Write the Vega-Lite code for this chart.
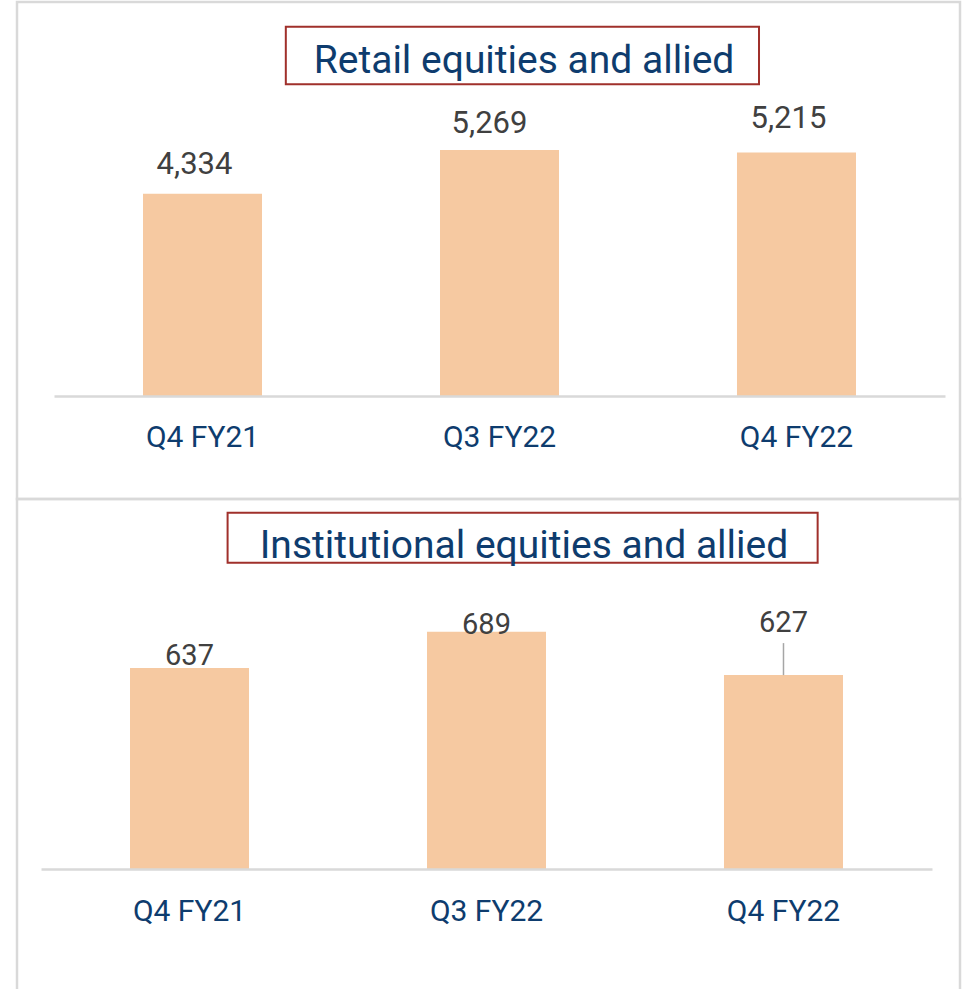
{
  "$schema": "https://vega.github.io/schema/vega-lite/v6.json",
  "background": "white",
  "padding": {"left": 15, "top": 0, "right": 5, "bottom": 0},
  "spacing": 0,
  "bounds": "flush",
  "config": {
    "view": {"stroke": "#D9D9D9", "strokeWidth": 2.5},
    "font": "Roboto",
    "concat": {"spacing": 0}
  },
  "datasets": {
    "retail": [
      {"quarter": "Q4 FY21", "value": 4334},
      {"quarter": "Q3 FY22", "value": 5269},
      {"quarter": "Q4 FY22", "value": 5215}
    ],
    "inst": [
      {"quarter": "Q4 FY21", "value": 637},
      {"quarter": "Q3 FY22", "value": 689},
      {"quarter": "Q4 FY22", "value": 627}
    ]
  },
  "vconcat": [
    {
      "width": 943,
      "height": 497,
      "encoding": {
        "x": {
          "field": "quarter",
          "type": "nominal",
          "sort": null,
          "scale": {"range": [37, 928], "paddingInner": 0.5993, "paddingOuter": 0.2997},
          "axis": {
            "title": null,
            "orient": "bottom",
            "offset": -103,
            "domainColor": "#D9D9D9",
            "domainWidth": 2.5,
            "ticks": false,
            "labelAngle": 0,
            "labelFont": "Roboto",
            "labelFontSize": 30,
            "labelColor": "#0E3C6E",
            "labelBaseline": "alphabetic",
            "labelPadding": 50,
            "zindex": 1
          }
        }
      },
      "layer": [
        {
          "data": {"name": "retail"},
          "mark": {"type": "bar", "color": "#F6C9A1"},
          "encoding": {
            "y": {"field": "value", "type": "quantitative", "scale": {"domain": [0, 8439], "range": [394, 0], "zero": false, "nice": false}, "axis": null},
            "y2": {"datum": 0}
          }
        },
        {
          "data": {"name": "retail"},
          "transform": [{"filter": "datum.quarter == 'Q4 FY21'"}],
          "mark": {"type": "text", "baseline": "alphabetic", "align": "center", "dy": -20, "dx": -8, "fontSize": 31, "color": "#404040"},
          "encoding": {
            "y": {"field": "value", "type": "quantitative"},
            "text": {"field": "value", "type": "quantitative", "format": ","}
          }
        },
        {
          "data": {"name": "retail"},
          "transform": [{"filter": "datum.quarter == 'Q3 FY22'"}],
          "mark": {"type": "text", "baseline": "alphabetic", "align": "center", "dy": -17, "dx": -10, "fontSize": 31, "color": "#404040"},
          "encoding": {
            "y": {"field": "value", "type": "quantitative"},
            "text": {"field": "value", "type": "quantitative", "format": ","}
          }
        },
        {
          "data": {"name": "retail"},
          "transform": [{"filter": "datum.quarter == 'Q4 FY22'"}],
          "mark": {"type": "text", "baseline": "alphabetic", "align": "center", "dy": -25, "dx": -8, "fontSize": 31, "color": "#404040"},
          "encoding": {
            "y": {"field": "value", "type": "quantitative"},
            "text": {"field": "value", "type": "quantitative", "format": ","}
          }
        },
        {
          "data": {"values": [{"title": "Retail equities and allied"}]},
          "mark": {"type": "rect", "fill": "white", "stroke": "#A0302B", "strokeWidth": 2},
          "encoding": {
            "x": {"datum": "Q4 FY21", "bandPosition": 1.2},
            "x2": {"datum": "Q4 FY22", "bandPosition": 0.185},
            "y": {"datum": 7910},
            "y2": {"datum": 6676}
          }
        },
        {
          "data": {"values": [{"title": "Retail equities and allied"}]},
          "mark": {"type": "text", "baseline": "alphabetic", "align": "center", "fontSize": 39, "color": "#0E3C6E"},
          "encoding": {
            "x": {"datum": "Q3 FY22", "bandPosition": 0.706},
            "y": {"datum": 6912},
            "text": {"field": "title"}
          }
        }
      ]
    },
    {
      "width": 943,
      "height": 492,
      "encoding": {
        "x": {
          "field": "quarter",
          "type": "nominal",
          "sort": null,
          "scale": {"range": [24, 915], "paddingInner": 0.5993, "paddingOuter": 0.2997},
          "axis": {
            "title": null,
            "orient": "bottom",
            "offset": -122,
            "domainColor": "#D9D9D9",
            "domainWidth": 2.5,
            "ticks": false,
            "labelAngle": 0,
            "labelFont": "Roboto",
            "labelFontSize": 30,
            "labelColor": "#0E3C6E",
            "labelBaseline": "alphabetic",
            "labelPadding": 51,
            "zindex": 1
          }
        }
      },
      "layer": [
        {
          "data": {"name": "inst"},
          "mark": {"type": "bar", "color": "#F6C9A1"},
          "encoding": {
            "y": {"field": "value", "type": "quantitative", "scale": {"domain": [350, 878.57], "range": [370, 0], "zero": false, "nice": false}, "axis": null},
            "y2": {"datum": 350}
          }
        },
        {
          "data": {"name": "inst"},
          "transform": [{"filter": "datum.quarter == 'Q4 FY21'"}],
          "mark": {"type": "text", "baseline": "alphabetic", "align": "center", "dy": -3, "fontSize": 29, "color": "#404040"},
          "encoding": {
            "y": {"field": "value", "type": "quantitative"},
            "text": {"field": "value", "type": "quantitative", "format": ","}
          }
        },
        {
          "data": {"name": "inst"},
          "transform": [{"filter": "datum.quarter == 'Q3 FY22'"}],
          "mark": {"type": "text", "baseline": "alphabetic", "align": "center", "dy": 2, "fontSize": 29, "color": "#404040"},
          "encoding": {
            "y": {"field": "value", "type": "quantitative"},
            "text": {"field": "value", "type": "quantitative", "format": ","}
          }
        },
        {
          "data": {"name": "inst"},
          "transform": [{"filter": "datum.quarter == 'Q4 FY22'"}],
          "mark": {"type": "text", "baseline": "alphabetic", "align": "center", "dy": -43, "fontSize": 29, "color": "#404040"},
          "encoding": {
            "y": {"field": "value", "type": "quantitative"},
            "text": {"field": "value", "type": "quantitative", "format": ","}
          }
        },
        {
          "data": {"name": "inst"},
          "transform": [{"filter": "datum.quarter == 'Q4 FY22'"}],
          "mark": {"type": "rule", "color": "#A6A6A6", "strokeWidth": 1.5, "y2Offset": -32},
          "encoding": {
            "y": {"field": "value", "type": "quantitative"},
            "y2": {"field": "value"}
          }
        },
        {
          "data": {"values": [{"title": "Institutional equities and allied"}]},
          "mark": {"type": "rect", "fill": "white", "stroke": "#A0302B", "strokeWidth": 2},
          "encoding": {
            "x": {"datum": "Q4 FY21", "bandPosition": 0.82},
            "x2": {"datum": "Q4 FY22", "bandPosition": 0.787},
            "y": {"datum": 859},
            "y2": {"datum": 787.6}
          }
        },
        {
          "data": {"values": [{"title": "Institutional equities and allied"}]},
          "mark": {"type": "text", "baseline": "alphabetic", "align": "center", "fontSize": 39, "color": "#0E3C6E"},
          "encoding": {
            "x": {"datum": "Q3 FY22", "bandPosition": 0.815},
            "y": {"datum": 793.9},
            "text": {"field": "title"}
          }
        }
      ]
    }
  ]
}
